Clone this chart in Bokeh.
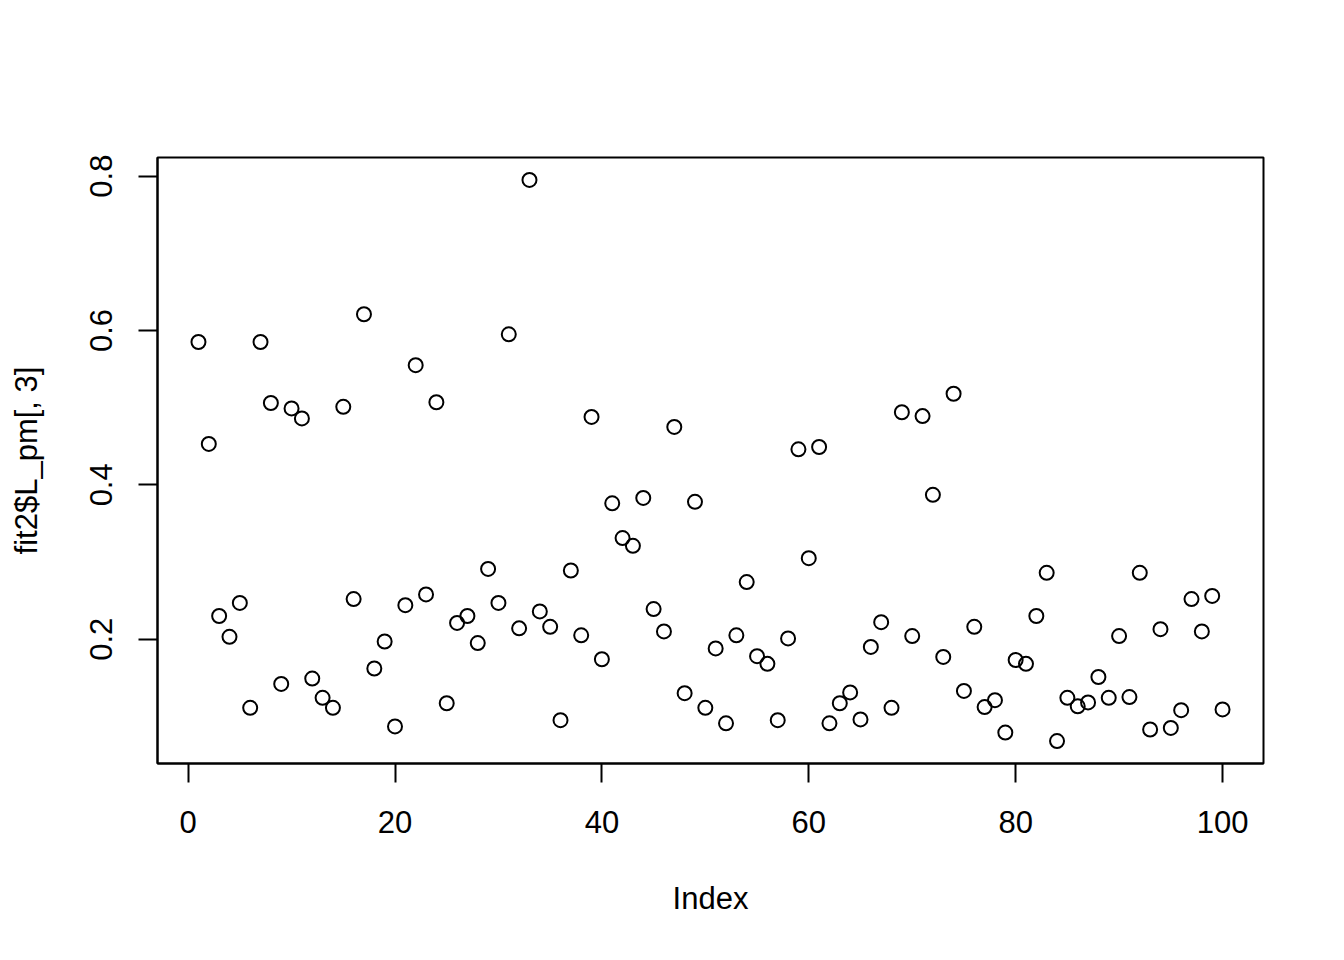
import math
from bokeh.plotting import figure
from bokeh.models import Range1d, FixedTicker, ColumnDataSource
from bokeh.embed import file_html
from bokeh.resources import INLINE

index = list(range(1, 101))
values = [
    0.585, 0.453, 0.230, 0.203, 0.247, 0.111, 0.585, 0.506, 0.142, 0.499,
    0.486, 0.149, 0.124, 0.111, 0.501, 0.252, 0.621, 0.162, 0.197, 0.087,
    0.244, 0.555, 0.258, 0.507, 0.117, 0.221, 0.230, 0.195, 0.291, 0.247,
    0.595, 0.214, 0.795, 0.236, 0.216, 0.095, 0.289, 0.205, 0.488, 0.174,
    0.376, 0.331, 0.321, 0.383, 0.239, 0.210, 0.475, 0.130, 0.378, 0.111,
    0.188, 0.091, 0.205, 0.274, 0.178, 0.168, 0.095, 0.201, 0.446, 0.305,
    0.449, 0.091, 0.117, 0.131, 0.096, 0.190, 0.222, 0.111, 0.494, 0.204,
    0.489, 0.387, 0.177, 0.518, 0.133, 0.216, 0.112, 0.121, 0.079, 0.173,
    0.168, 0.230, 0.286, 0.068, 0.124, 0.113, 0.118, 0.151, 0.124, 0.204,
    0.125, 0.286, 0.083, 0.213, 0.085, 0.108, 0.252, 0.210, 0.256, 0.109,
]
x_ticks = [0, 20, 40, 60, 80, 100]
y_ticks = [0.2, 0.4, 0.6, 0.8]
y_tick_labels = ["0.2", "0.4", "0.6", "0.8"]
x_title = "Index"
y_title = "fit2$L_pm[, 3]"

FONT = "Liberation Sans"
FS = "31px"

def padded(lo, hi, f=0.04):
    d = (hi - lo) * f
    return lo - d, hi + d

x0, x1 = padded(min(index), max(index))
y0, y1 = padded(min(values), max(values))

p = figure(width=1328, height=944, output_backend="svg", toolbar_location=None,
           x_range=Range1d(x0, x1), y_range=Range1d(y0, y1),
           min_border_left=157, min_border_right=65, min_border_top=157, min_border_bottom=181)
p.background_fill_color = "white"
p.border_fill_color = "white"
p.outline_line_color = "black"
p.outline_line_width = 2
p.grid.visible = False

src = ColumnDataSource(dict(x=index, y=values))
p.scatter("x", "y", source=src, marker="circle", size=14, fill_color=None,
          line_color="black", line_width=2)

for ax in (p.xaxis[0], p.yaxis[0]):
    ax.axis_line_color = "black"
    ax.axis_line_width = 2
    ax.major_tick_line_color = "black"
    ax.major_tick_line_width = 2
    ax.major_tick_out = 19
    ax.major_tick_in = 0
    ax.minor_tick_line_color = None
    ax.major_label_text_font = FONT
    ax.major_label_text_font_size = FS
    ax.major_label_text_color = "black"
    ax.axis_label_text_font = FONT
    ax.axis_label_text_font_size = FS
    ax.axis_label_text_font_style = "normal"
    ax.axis_label_text_color = "black"

p.xaxis.ticker = FixedTicker(ticks=x_ticks)
p.yaxis.ticker = FixedTicker(ticks=y_ticks)
p.yaxis.major_label_overrides = {t: l for t, l in zip(y_ticks, y_tick_labels)}
p.yaxis.major_label_orientation = "vertical"
p.xaxis.axis_label = x_title
p.yaxis.axis_label = y_title
p.xaxis.major_label_standoff = 28
p.yaxis.major_label_standoff = 26
p.xaxis.axis_label_standoff = 45
p.yaxis.axis_label_standoff = 44

open("out.html", "w").write(file_html(p, INLINE))
